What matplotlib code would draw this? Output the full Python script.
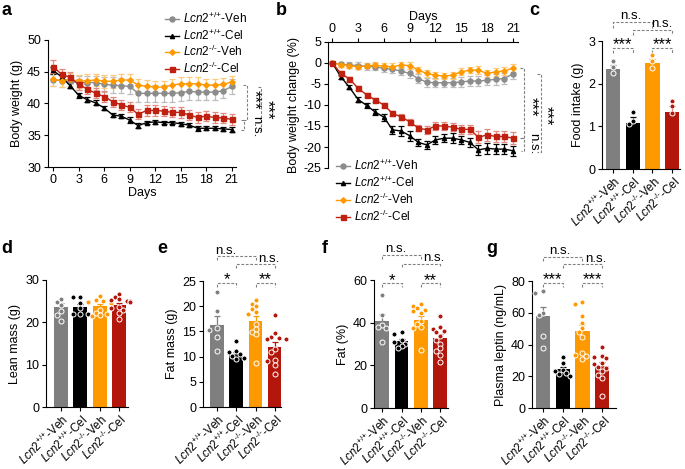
import numpy as np
import matplotlib
matplotlib.use("Agg")
import matplotlib.pyplot as plt
from matplotlib.lines import Line2D

plt.rcParams['font.family'] = 'Liberation Sans'
plt.rcParams['mathtext.fontset'] = 'custom'
plt.rcParams['mathtext.rm'] = 'Liberation Sans'
plt.rcParams['mathtext.it'] = 'Liberation Sans:italic'
plt.rcParams['mathtext.bf'] = 'Liberation Sans:bold'
plt.rcParams['axes.linewidth'] = 0.8
plt.rcParams['axes.unicode_minus'] = False

# groups
group_labels = [r'$\mathit{Lcn2}^{\text{+/+}}$-Veh', r'$\mathit{Lcn2}^{\text{+/+}}$-Cel',
                r'$\mathit{Lcn2}^{\text{-/-}}$-Veh', r'$\mathit{Lcn2}^{\text{-/-}}$-Cel']
colors = ['#7F7F7F', '#000000', '#FF9900', '#B3160B']

days = list(range(22))

# a: body weight (g)
bw_wt_veh = [43.7, 43.6, 43.5, 43.3, 43.3, 43.3, 43.0, 42.9, 42.8, 42.7, 41.6, 41.6,
             41.6, 41.6, 41.6, 41.7, 41.9, 41.8, 41.8, 41.8, 42.0, 42.7]
bw_wt_cel = [45.2, 44.2, 42.8, 41.3, 40.6, 40.1, 39.3, 38.2, 38.0, 37.4, 36.5, 37.0,
             37.1, 37.0, 37.0, 36.8, 36.6, 36.1, 36.1, 36.1, 36.0, 35.9]
bw_ko_veh = [43.8, 43.6, 43.8, 43.5, 43.6, 43.7, 43.5, 43.5, 43.7, 43.7, 42.9, 42.7,
             42.6, 42.6, 42.9, 43.1, 43.1, 43.1, 42.9, 42.9, 43.0, 43.4]
bw_ko_cel = [45.8, 44.6, 44.1, 43.0, 42.3, 41.6, 41.1, 40.3, 39.8, 39.4, 38.3, 38.9,
             38.9, 38.8, 38.6, 38.6, 38.2, 37.8, 38.0, 37.8, 37.7, 37.5]
bw_wt_veh_err = [0.9, 1.0, 1.0, 1.1, 1.1, 1.1, 1.2, 1.2, 1.2, 1.2, 1.3, 1.3,
                 1.3, 1.3, 1.3, 1.3, 1.3, 1.3, 1.3, 1.3, 1.2, 1.2]
bw_wt_cel_err = [0.5, 0.4, 0.4, 0.4, 0.4, 0.4, 0.3, 0.3, 0.3, 0.4, 0.4, 0.3,
                 0.3, 0.3, 0.3, 0.3, 0.3, 0.4, 0.3, 0.3, 0.3, 0.4]
bw_ko_veh_err = [1.0, 1.0, 1.0, 1.0, 1.0, 1.0, 1.0, 1.0, 1.0, 1.0, 1.0, 1.0,
                 1.0, 1.0, 1.0, 1.1, 1.1, 1.0, 1.0, 1.0, 1.0, 0.9]
bw_ko_cel_err = [1.0, 0.9, 0.9, 0.8, 0.8, 0.8, 0.8, 0.8, 0.8, 0.8, 0.8, 0.8,
                 0.8, 0.8, 0.8, 0.9, 0.8, 0.9, 0.8, 0.8, 0.8, 0.9]

# b: body weight change (%)
chg_wt_veh = [0.0, -0.3, -0.5, -0.6, -0.8, -0.9, -1.3, -1.5, -1.9, -2.5, -3.7, -4.6,
              -4.7, -4.7, -4.7, -4.5, -4.3, -4.3, -4.1, -3.9, -3.7, -2.6]
chg_wt_cel = [0.0, -3.3, -5.8, -8.7, -10.1, -11.7, -12.9, -15.9, -16.2, -17.3, -18.9, -19.5,
              -18.3, -17.9, -17.9, -18.3, -18.9, -20.7, -20.3, -20.5, -20.5, -20.9]
chg_ko_veh = [0.0, -0.4, -0.6, -0.9, -0.7, -0.5, -0.8, -0.9, -0.5, -0.6, -1.7, -2.5,
              -2.9, -3.1, -2.9, -2.1, -1.7, -1.7, -2.5, -2.1, -1.9, -1.2]
chg_ko_cel = [0.0, -2.5, -3.8, -6.0, -7.6, -8.8, -10.0, -12.0, -12.8, -14.0, -15.5, -15.9,
              -15.0, -15.0, -15.3, -15.8, -15.8, -17.7, -17.1, -17.5, -17.5, -17.9]
chg_wt_veh_err = [0.0, 0.6, 0.7, 0.8, 0.8, 0.8, 0.9, 0.9, 0.9, 1.0, 1.0, 1.1,
                  1.1, 1.1, 1.1, 1.2, 1.2, 1.2, 1.2, 1.3, 1.4, 1.3]
chg_wt_cel_err = [0.0, 0.4, 0.5, 0.5, 0.6, 0.7, 0.8, 0.9, 1.2, 1.2, 0.9, 0.9,
                  0.9, 1.0, 1.2, 1.0, 1.1, 1.2, 1.3, 1.2, 1.2, 1.2]
chg_ko_veh_err = [0.0, 0.5, 0.6, 0.6, 0.6, 0.7, 0.7, 0.8, 0.8, 0.8, 0.8, 0.8,
                  0.8, 0.8, 0.8, 0.8, 0.8, 0.9, 0.9, 0.9, 0.9, 0.9]
chg_ko_cel_err = [0.0, 0.5, 0.5, 0.5, 0.5, 0.5, 0.5, 0.6, 0.7, 0.7, 0.8, 0.9,
                  0.9, 1.0, 1.0, 1.0, 1.0, 1.4, 1.5, 1.4, 1.4, 1.4]

# c: food intake (g)
food_mean = [2.34, 1.07, 2.48, 1.34]
food_err = [0.09, 0.15, 0.09, 0.14]
food_pts = [[2.53, 2.40, 2.25], [1.33, 1.12, 1.06], [2.67, 2.53, 2.36], [1.60, 1.47, 1.32]]

# d: lean mass (g)
lean_mean = [23.7, 23.7, 23.8, 24.1]
lean_err = [0.8, 0.6, 0.5, 0.5]
lean_pts = [[25.6, 24.9, 24.1, 22.6, 21.7, 20.3],
            [26.0, 26.0, 24.5, 23.3, 22.0, 21.9, 21.9],
            [26.2, 25.3, 25.0, 24.9, 24.5, 22.9, 22.3, 21.7, 21.5, 21.9],
            [26.6, 26.0, 25.4, 25.3, 25.0, 25.0, 24.9, 23.7, 23.3, 22.9, 22.1, 20.8]]

# e: fat mass (g)
fatm_mean = [16.3, 10.6, 17.0, 12.0]
fatm_err = [1.7, 0.4, 1.0, 0.9]
fatm_pts = [[22.8, 19.0, 15.7, 15.3, 13.9, 11.2],
            [13.1, 11.1, 10.9, 10.5, 10.2, 9.8, 9.5],
            [21.3, 20.5, 20.0, 19.5, 18.8, 18.4, 16.4, 15.5, 14.9, 14.4, 8.7],
            [18.2, 14.6, 13.9, 13.7, 13.4, 13.4, 11.6, 11.0, 9.3, 9.1, 8.3, 6.5]]

# f: fat (%)
fatp_mean = [40.7, 31.3, 41.2, 32.9]
fatp_err = [3.3, 1.0, 1.9, 1.9]
fatp_pts = [[53.0, 43.6, 38.9, 37.8, 37.6, 31.0],
            [35.4, 34.9, 31.8, 31.0, 30.2, 29.0, 27.9],
            [48.6, 47.8, 46.7, 45.9, 45.4, 44.3, 40.9, 39.2, 37.8, 37.3, 27.1],
            [43.1, 37.8, 36.8, 36.2, 35.7, 33.7, 31.8, 30.2, 27.9, 26.6, 24.8, 21.6]]

# g: plasma leptin (ng/mL)
lep_mean = [57.8, 24.4, 48.6, 26.5]
lep_err = [5.9, 1.7, 3.6, 2.7]
lep_pts = [[73.7, 72.4, 59.9, 58.5, 45.5, 38.0],
           [31.9, 28.6, 24.0, 23.0, 22.3, 21.5, 20.3],
           [66.6, 65.8, 57.8, 53.7, 50.7, 48.0, 44.9, 34.4, 33.4, 32.8, 30.7],
           [38.2, 32.8, 32.4, 31.3, 28.6, 27.8, 26.1, 25.1, 23.0, 20.9, 18.8, 7.7]]

fig = plt.figure(figsize=(6.85, 4.69), dpi=100)
W, H = 685.0, 469.0


def px_axes(left, top, right, bottom):
    return fig.add_axes([left / W, 1 - bottom / H, (right - left) / W, (bottom - top) / H])


def style(ax):
    for s in ['top', 'right']:
        ax.spines[s].set_visible(False)
    ax.tick_params(labelsize=9, length=3, width=0.8, pad=2)


def hbracket(ax, x1, x2, y, leg, text, tx=None):
    ax.plot([x1, x1, x2, x2], [y - leg, y, y, y - leg], ls=(0, (2.5, 1.5)),
            color='0.5', lw=0.8, clip_on=False)
    if tx is None:
        tx = (x1 + x2) / 2
    if '*' in text:
        ax.annotate(text, (tx, y), xytext=(0, -1), textcoords='offset points',
                    ha='center', va='baseline', fontsize=12, annotation_clip=False)
    else:
        ax.annotate(text, (tx, y), xytext=(0, 2), textcoords='offset points',
                    ha='center', va='baseline', fontsize=9.5, annotation_clip=False)


def vbracket(ax, x, y1, y2, leg, text, tx, ty):
    tr = ax.get_yaxis_transform()
    ax.plot([x - leg, x, x, x - leg], [y1, y1, y2, y2], ls=(0, (2.5, 1.5)),
            color='0.5', lw=0.8, transform=tr, clip_on=False)
    fs = 12 if '*' in text else 9.5
    ax.text(tx, ty, text, transform=tr, rotation=270, ha='center', va='center',
            fontsize=fs, clip_on=False)


line_styles = [
    dict(color='#8C8C8C', marker='o', ms=3.6, ecolor='#BDBDBD'),
    dict(color='#000000', marker='^', ms=3.0, ecolor='#000000'),
    dict(color='#FF9900', marker='D', ms=2.8, ecolor='#FFC978'),
    dict(color='#C0200F', marker='s', ms=3.6, ecolor='#E08A80'),
]
legend_handles = [Line2D([], [], color=st['color'], marker=st['marker'], ms=st['ms'], lw=1.0)
                  for st in line_styles]


def line_panel(ax, series, errs):
    for vals, err, st in zip(series, errs, line_styles):
        ax.errorbar(days, vals, yerr=err, color=st['color'], ecolor=st['ecolor'],
                    marker=st['marker'], ms=st['ms'], mec=st['color'], lw=1.0,
                    elinewidth=0.9, capsize=2.2, capthick=0.9)


# ---- a ----
ax = px_axes(48, 40, 236, 167)
style(ax)
line_panel(ax, [bw_wt_veh, bw_wt_cel, bw_ko_veh, bw_ko_cel],
           [bw_wt_veh_err, bw_wt_cel_err, bw_ko_veh_err, bw_ko_cel_err])
ax.set_xlim(-0.6, 21.5)
ax.set_ylim(30, 50)
ax.set_xticks(range(0, 22, 3))
ax.set_yticks(range(30, 51, 5))
ax.set_xlabel('Days', fontsize=9, labelpad=1)
ax.set_ylabel('Body weight (g)', fontsize=9, labelpad=3)
ax.legend(legend_handles, group_labels, loc='upper left', bbox_to_anchor=(165 / W, 1 - 11 / H),
          bbox_transform=fig.transFigure, frameon=False, fontsize=8.5, handlelength=1.2,
          handletextpad=0.3, labelspacing=0.12, borderpad=0, borderaxespad=0)
vbracket(ax, 1.060, 42.9, 37.4, 0.022, '***', 1.095, 40.6)
vbracket(ax, 1.045, 37.4, 35.9, 0.018, 'n.s.', 1.105, 36.3)
vbracket(ax, 1.135, 42.6, 35.8, 0.02, '***', 1.165, 39.0)

# ---- b ----
ax = px_axes(328, 42, 518, 168)
for s in ['bottom', 'right']:
    ax.spines[s].set_visible(False)
ax.tick_params(labelsize=9, length=3, width=0.8, pad=2)
line_panel(ax, [chg_wt_veh, chg_wt_cel, chg_ko_veh, chg_ko_cel],
           [chg_wt_veh_err, chg_wt_cel_err, chg_ko_veh_err, chg_ko_cel_err])
ax.set_xlim(-0.5, 21.6)
ax.set_ylim(-25, 5)
ax.xaxis.tick_top()
ax.xaxis.set_label_position('top')
ax.set_xticks(range(0, 22, 3))
ax.set_yticks(range(-25, 6, 5))
ax.set_xlabel('Days', fontsize=9, labelpad=2)
ax.set_ylabel('Body weight change (%)', fontsize=9, labelpad=2)
ax.legend(legend_handles, group_labels, loc='upper left', bbox_to_anchor=(336 / W, 1 - 158 / H),
          bbox_transform=fig.transFigure, frameon=False, fontsize=8.5, handlelength=1.2,
          handletextpad=0.3, labelspacing=0.15, borderpad=0, borderaxespad=0)
vbracket(ax, 1.032, -1.2, -17.9, 0.02, '***', 1.068, -10.3)
vbracket(ax, 1.032, -17.9, -20.9, 0.015, 'n.s.', 1.078, -19.3)
vbracket(ax, 1.12, -2.6, -21.2, 0.02, '***', 1.148, -12.6)


def bar_panel(ax, means, errs, pts, xlim, ylim, yticks, ylabel):
    style(ax)
    ax.set_xlim(*xlim)
    ax.set_ylim(*ylim)
    ax.set_yticks(yticks)
    x = np.arange(4)
    ax.bar(x, means, width=0.72, color=colors, zorder=1)
    for i in range(4):
        ax.errorbar(x[i], means[i], yerr=[[0], [errs[i]]], fmt='none', ecolor=colors[i],
                    elinewidth=0.9, capsize=2.5, capthick=0.9, zorder=2)
    # simple swarm layout in pixel space
    d = 4.8
    for i in range(4):
        disp = ax.transData.transform([(x[i], v) for v in pts[i]])
        placed = []
        for px, py in disp:
            for k in [0, -1, 1, -2, 2, -3, 3]:
                cx = px + k * d * 0.8
                if all((cx - qx) ** 2 + (py - qy) ** 2 >= d * d * 0.85 for qx, qy in placed):
                    break
            placed.append((cx, py))
        dat = ax.transData.inverted().transform(placed)
        ax.scatter(dat[:, 0], dat[:, 1], s=13, facecolor=colors[i], edgecolor='white',
                   linewidth=0.7, zorder=3, clip_on=False)
    ax.set_xticks(x)
    ax.set_xticklabels(group_labels, rotation=45, ha='right', rotation_mode='anchor', fontsize=8.4)
    ax.tick_params(axis='x', pad=1)
    ax.set_ylabel(ylabel, fontsize=9, labelpad=3)


# ---- c ----
ax = px_axes(602, 41, 680, 169)
bar_panel(ax, food_mean, food_err, food_pts, (-0.56, 3.4), (0, 3), [0, 1, 2, 3], 'Food intake (g)')
hbracket(ax, 0, 1, 2.84, 0.11, '***')
hbracket(ax, 2, 3, 2.84, 0.11, '***')
hbracket(ax, 0, 2, 3.45, 0.14, 'n.s.', tx=0.9)
hbracket(ax, 1, 3, 3.26, 0.12, 'n.s.', tx=2.5)

# ---- d ----
ax = px_axes(46, 280, 128, 407)
bar_panel(ax, lean_mean, lean_err, lean_pts, (-0.78, 3.47), (0, 30), [0, 10, 20, 30], 'Lean mass (g)')

# ---- e ----
ax = px_axes(203, 281, 281, 407)
bar_panel(ax, fatm_mean, fatm_err, fatm_pts, (-0.72, 3.32), (0, 25), [0, 5, 10, 15, 20, 25], 'Fat mass (g)')
hbracket(ax, 0, 1, 24.6, 0.8, '*')
hbracket(ax, 2, 3, 24.6, 0.8, '**')
hbracket(ax, 0, 2, 29.9, 0.8, 'n.s.', tx=0.45)
hbracket(ax, 1, 3, 28.3, 0.8, 'n.s.', tx=2.68)

# ---- f ----
ax = px_axes(374, 280, 448, 408)
bar_panel(ax, fatp_mean, fatp_err, fatp_pts, (-0.42, 3.4), (0, 60), [0, 20, 40, 60], 'Fat (%)')
hbracket(ax, 0, 1, 58.4, 1.6, '*')
hbracket(ax, 2, 3, 58.4, 1.6, '**')
hbracket(ax, 0, 2, 71.8, 1.8, 'n.s.', tx=0.7)
hbracket(ax, 1, 3, 67.5, 1.6, 'n.s.', tx=2.68)

# ---- g ----
ax = px_axes(532, 281, 616, 408)
bar_panel(ax, lep_mean, lep_err, lep_pts, (-0.55, 3.7), (0, 80), [0, 20, 40, 60, 80], 'Plasma leptin (ng/mL)')
hbracket(ax, 0, 1, 78.7, 2.5, '***')
hbracket(ax, 2, 3, 78.7, 2.5, '***')
hbracket(ax, 0, 2, 95.4, 2.5, 'n.s.', tx=0.85)
hbracket(ax, 1, 3, 90.4, 2.5, 'n.s.', tx=2.7)

# panel letters
for lab, xp, yp in [('a', 1, 2), ('b', 276, 2), ('c', 529, 2),
                    ('d', 1, 240), ('e', 157, 240), ('f', 322, 240), ('g', 486, 240)]:
    fig.text(xp / W, 1 - yp / H, lab, fontsize=13, fontweight='bold', va='top', ha='left')

fig.savefig('out.png', dpi=100)
